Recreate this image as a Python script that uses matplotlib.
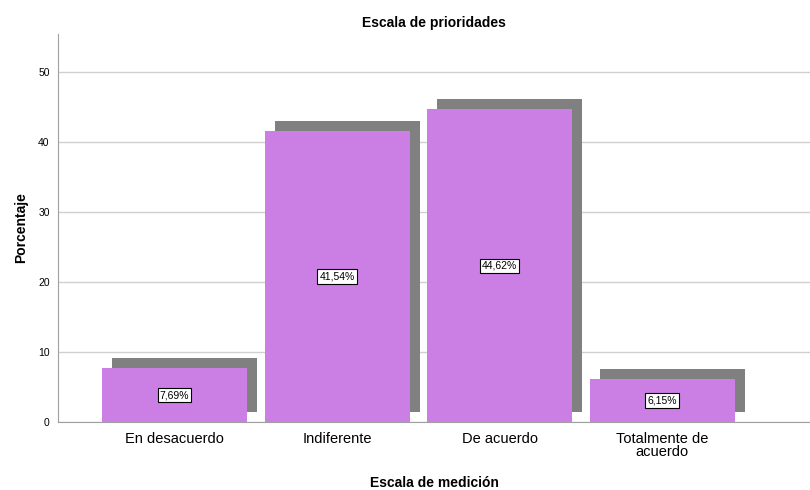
import matplotlib
matplotlib.use("Agg")
import matplotlib.pyplot as plt
import numpy as np

plt.rcParams['font.family'] = ['Liberation Sans', 'DejaVu Sans']

categories = ["En desacuerdo", "Indiferente", "De acuerdo", "Totalmente de\nacuerdo"]
values = [7.69, 41.54, 44.62, 6.15]
labels = ["7,69%", "41,54%", "44,62%", "6,15%"]
yticks = [0, 10, 20, 30, 40, 50]

fig = plt.figure(figsize=(8.1, 4.9), dpi=100)
ax = fig.add_axes([58/810, 68/490, 1 - 58/810, (422-34)/490])

x = np.arange(len(categories))
width = 0.892
dx, dy = 0.0615, 1.43
ax.bar(x + dx, values, width=width, bottom=dy, color="#808080", zorder=2)
ax.bar(x, values, width=width, color="#cb7fe4", zorder=3)

for xi, v, lab in zip(x, values, labels):
    ax.text(xi, v / 2, lab, ha="center", va="center", fontsize=7.5, zorder=4,
            bbox=dict(boxstyle="square,pad=0.2", fc="white", ec="black", lw=0.8))

ax.set_xlim(-0.717, 3.91)
ax.set_ylim(0, 55.4)
ax.set_yticks(yticks)
ax.set_yticklabels([str(t) for t in yticks], fontsize=7.5)
ax.set_xticks(x)
ax.set_xticklabels(categories, fontsize=10.5, linespacing=0.95)
ax.tick_params(axis="x", length=0, pad=7)
ax.tick_params(axis="y", length=0, pad=6)
ax.yaxis.grid(True, color="#d0d0d0", lw=1)
ax.set_axisbelow(True)
for s in ["top", "right"]:
    ax.spines[s].set_visible(False)
ax.spines["left"].set_color("#a0a0a0")
ax.spines["bottom"].set_color("#a0a0a0")

ax.set_title("Escala de prioridades", fontsize=10, fontweight="bold", pad=5)
ax.set_xlabel("Escala de medición", fontsize=10, fontweight="bold", labelpad=12)
ax.set_ylabel("Porcentaje", fontsize=10, fontweight="bold", labelpad=7)

fig.savefig("out.png", dpi=100)
